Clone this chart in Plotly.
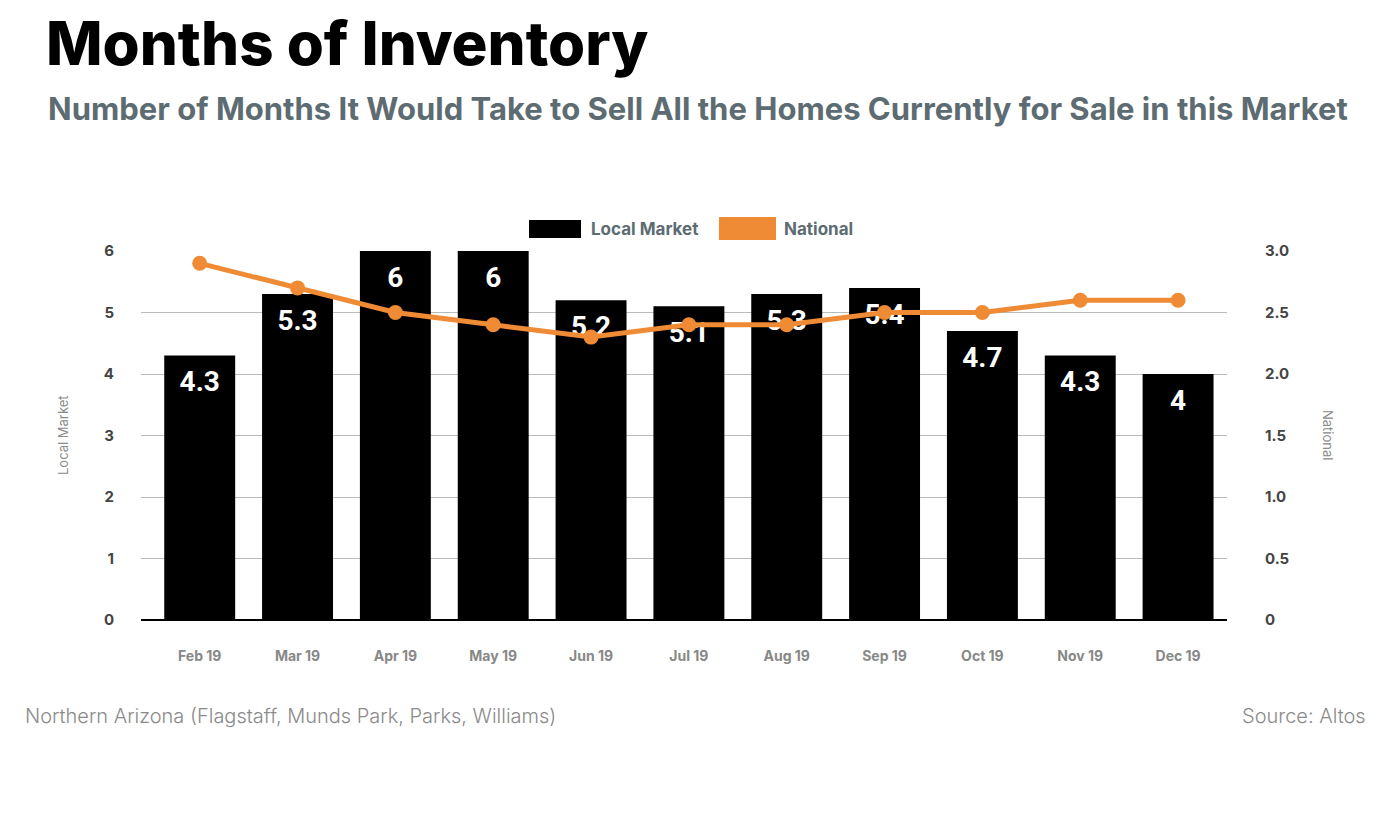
import plotly.graph_objects as go

months = ["Feb 19", "Mar 19", "Apr 19", "May 19", "Jun 19", "Jul 19",
          "Aug 19", "Sep 19", "Oct 19", "Nov 19", "Dec 19"]
local_market = [4.3, 5.3, 6, 6, 5.2, 5.1, 5.3, 5.4, 4.7, 4.3, 4]
national = [2.9, 2.7, 2.5, 2.4, 2.3, 2.4, 2.4, 2.5, 2.5, 2.6, 2.6]
left_ticks = [0, 1, 2, 3, 4, 5, 6]
right_tickvals = [0, 0.5, 1.0, 1.5, 2.0, 2.5, 3.0]
right_ticktext = ["0", "0.5", "1.0", "1.5", "2.0", "2.5", "3.0"]

ORANGE = "#EF8A35"
TICKFONT = dict(family="Inter", size=15, color="#444444", weight=700)

# page offset (body margin) and plot area in page pixels
OFF = 8
PL, PR, PT, PB = 141, 1227, 251, 620
W, H = 1390 - OFF, 820 - OFF

fig = go.Figure()
fig.add_trace(go.Bar(
    x=months, y=local_market, name="Local Market",
    marker=dict(color="#000000", line=dict(width=0)),
    yaxis="y", hoverinfo="x+y",
))
fig.add_trace(go.Scatter(
    x=months, y=local_market, mode="markers+text",
    text=[f"{v:g}" for v in local_market],
    textposition="bottom center",
    textfont=dict(family="Roboto", size=28, color="white", weight=700),
    marker=dict(size=22, color="rgba(0,0,0,0)"), showlegend=False, hoverinfo="skip",
    yaxis="y", cliponaxis=False,
))
fig.add_trace(go.Scatter(
    x=months, y=national, name="National", mode="lines+markers",
    line=dict(color=ORANGE, width=5),
    marker=dict(color=ORANGE, size=15),
    yaxis="y2", cliponaxis=False,
))

fig.update_layout(
    width=W, height=H,
    margin=dict(l=PL - OFF, r=W - (PR - OFF), t=PT - OFF, b=H - (PB - OFF), pad=0),
    paper_bgcolor="white", plot_bgcolor="white",
    showlegend=False, bargap=0.275,
    xaxis=dict(tickfont=dict(family="Inter", size=14, color="#888888", weight=700),
               range=[-0.6, 10.5],
               showgrid=False, showline=False, ticks="", ticklabelstandoff=26),
    yaxis=dict(range=[0, 6], tickvals=left_ticks, tickfont=TICKFONT,
               gridcolor="#BBBBBB", gridwidth=1, zeroline=True,
               zerolinecolor="#000000", zerolinewidth=2, ticklabelstandoff=26),
    yaxis2=dict(range=[0, 3], overlaying="y", side="right",
                tickvals=right_tickvals, ticktext=right_ticktext,
                tickfont=TICKFONT, showgrid=False, zeroline=False,
                ticklabelstandoff=37),
)

def px(x):
    return (x - PL) / (PR - PL)

def py(y):
    return (PB - y) / (PB - PT)

def ann(text, x, y, size, color, weight=400, xanchor="left", family="Inter", angle=0):
    fig.add_annotation(text=text, xref="paper", yref="paper",
                       x=px(x), y=py(y),
                       xanchor=xanchor, yanchor="middle", showarrow=False,
                       textangle=angle,
                       font=dict(family=family, size=size, color=color, weight=weight))

ann("Months of Inventory", 44, 43, 60, "#000000", 800)
ann("Number of Months It Would Take to Sell All the Homes Currently for Sale in this Market",
    46, 108, 31, "#5D6B72", 700)
ann("Northern Arizona (Flagstaff, Munds Park, Parks, Williams)", 23, 716, 20, "#8A8A8A", 300)
ann("Source: Altos", 1368, 716, 20, "#8A8A8A", 300, xanchor="right")
ann("Local Market", 63, 435, 13, "#8A8A8A", 400, xanchor="center", angle=-90)
ann("National", 1328, 435, 13, "#8A8A8A", 400, xanchor="center", angle=90)

# Legend
ann("Local Market", 589, 229, 17, "#5D6B72", 700)
ann("National", 782, 229, 17, "#5D6B72", 700)
fig.add_shape(type="rect", xref="paper", yref="paper",
              x0=px(529), x1=px(581), y0=py(238), y1=py(220),
              fillcolor="#000000", line=dict(width=0))
fig.add_shape(type="rect", xref="paper", yref="paper",
              x0=px(719), x1=px(776), y0=py(240), y1=py(217),
              fillcolor=ORANGE, line=dict(width=0))

fig.write_html("out.html")
